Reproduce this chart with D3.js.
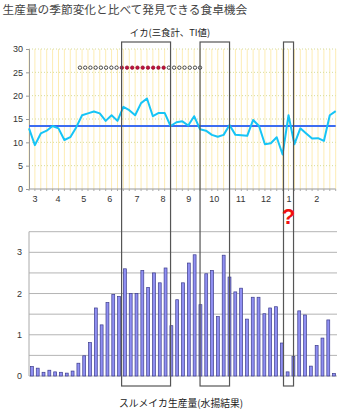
<!DOCTYPE html>
<html>
<head>
<meta charset="utf-8">
<script src="https://cdn.jsdelivr.net/npm/d3@7"></script>
<style>
  html, body { margin: 0; padding: 0; background: #fff; }
  svg { display: block; font-family: "Liberation Sans", "Noto Sans CJK JP", sans-serif; }
  .jp { font-family: "Noto Sans CJK JP", sans-serif; }
</style>
</head>
<body>
<svg id="chart" width="350" height="412"></svg>
<script>
// Weekly TI index for squid (three meals combined), March through February
const tiValues = [13.0, 9.4, 11.9, 12.5, 13.5, 13.0, 10.5, 11.1, 13.2, 15.8,
                  16.2, 16.6, 16.2, 14.6, 15.8, 14.6, 17.6, 16.9, 15.8, 18.4,
                  19.4, 15.6, 16.3, 16.3, 13.5, 14.3, 14.5, 13.6, 15.6, 12.8,
                  12.5, 11.6, 11.2, 11.6, 13.7, 11.6, 11.5, 11.4, 14.8, 13.5,
                  9.6, 9.8, 11.1, 7.4, 15.8, 9.6, 13.0, 11.9, 10.8, 10.9,
                  10.3, 15.8, 16.7];
// Annual average of the TI index
const tiAverage = 13.5;

// Weekly common squid landings
const landings = [0.23, 0.19, 0.09, 0.14, 0.10, 0.09, 0.07, 0.12, 0.31, 0.49,
                  0.81, 1.65, 1.24, 1.78, 1.98, 1.93, 2.60, 2.00, 2.00, 2.56,
                  2.15, 2.50, 2.26, 2.62, 1.22, 1.85, 2.26, 2.74, 2.94, 1.73,
                  2.48, 2.56, 1.44, 2.93, 2.40, 2.04, 2.13, 1.38, 1.91, 1.91,
                  1.51, 1.65, 1.68, 0.80, 0.10, 0.47, 1.58, 1.48, 0.24, 0.74,
                  0.92, 1.36, 0.06];

// Month labels and the week they sit under
const monthLabels = ["3", "4", "5", "6", "7", "8", "9", "10", "11", "12", "1", "2"];
const monthWeeks  = [1.0, 4.9, 9.3, 13.7, 18.3, 22.7, 27.1, 31.4, 35.9, 40.2, 44.1, 48.8];

// Season markers (week position, in season or not) plotted at value 26
const seasonWeeks = [8.64, 9.53, 10.41, 11.30, 12.19, 13.07, 13.96, 14.85,
                     15.73, 16.62, 17.50, 18.39, 19.28, 20.17, 21.05, 21.94, 22.83,
                     23.71, 24.60, 25.49, 26.37, 27.26, 28.15, 29.00];
const seasonPeak  = [0, 0, 0, 0, 0, 0, 0, 0,
                     1, 1, 1, 1, 1, 1, 1, 1, 1,
                     0, 0, 0, 0, 0, 0, 0];
const seasonLevel = 26;

// Highlighted periods (start week, end week)
const periodStart = [15.7, 29.0, 43.15];
const periodEnd   = [24.0, 34.0, 44.85];

const topTicks = [0, 5, 10, 15, 20, 25, 30];
const bottomTicks = [0, 1, 2, 3];
const bottomGrid = [0, 0.5, 1, 1.5, 2, 2.5, 3, 3.5];

const svg = d3.select("#chart");

// ---------- layout ----------
const left = 29;
const topChart = { top: 49, bottom: 189, right: 335.7 };
const botChart = { top: 231.7, bottom: 376, right: 337 };

const xTop = d3.scaleLinear().domain([0, tiValues.length - 1]).range([left, topChart.right]);
const yTop = d3.scaleLinear().domain([0, 30]).range([topChart.bottom, topChart.top]);

const xBot = d3.scaleBand().domain(d3.range(landings.length)).range([left, botChart.right]).paddingInner(0.5).paddingOuter(0.25);
const yBot = d3.scaleLinear().domain([0, 3.5]).range([botChart.bottom, botChart.top]);

// ---------- titles ----------
svg.append("text").attr("class", "jp")
  .attr("x", 2.5).attr("y", 13.5)
  .attr("font-size", 11.7).attr("fill", "#444")
  .text("生産量の季節変化と比べて発見できる食卓機会");

svg.append("text").attr("class", "jp")
  .attr("x", 170).attr("y", 36).attr("text-anchor", "middle")
  .attr("font-size", 9.4).attr("fill", "#222")
  .text("イカ(三食計、TI値)");

svg.append("text").attr("class", "jp")
  .attr("x", 181).attr("y", 407).attr("text-anchor", "middle")
  .attr("font-size", 9.8).attr("fill", "#222")
  .text("スルメイカ生産量(水揚結果)");

// ---------- top chart ----------
const gTop = svg.append("g");

// weekly vertical guides
gTop.append("g").selectAll("line")
  .data(tiValues)
  .join("line")
  .attr("x1", (d, i) => xTop(i)).attr("x2", (d, i) => xTop(i))
  .attr("y1", yTop(30)).attr("y2", yTop(0))
  .attr("stroke", "#fdecb4").attr("stroke-width", 1);

// dotted horizontal guides
gTop.append("g").selectAll("line")
  .data(topTicks.filter(t => t > 0))
  .join("line")
  .attr("x1", left).attr("x2", topChart.right)
  .attr("y1", d => yTop(d)).attr("y2", d => yTop(d))
  .attr("stroke", "#d6dc9a").attr("stroke-width", 1)
  .attr("stroke-dasharray", "1,2");

// y axis
const yAxisTop = d3.axisLeft(yTop).tickValues(topTicks).tickSize(3).tickPadding(3);
gTop.append("g")
  .attr("transform", `translate(${left},0)`)
  .call(yAxisTop)
  .call(g => g.select(".domain").attr("stroke", "#999"))
  .call(g => g.selectAll(".tick line").attr("stroke", "#999"))
  .call(g => g.selectAll(".tick text").attr("font-size", 9).attr("fill", "#333")
    .attr("font-family", "Liberation Sans, sans-serif"));

// x axis baseline with weekly ticks
gTop.append("line")
  .attr("x1", left).attr("x2", topChart.right)
  .attr("y1", yTop(0)).attr("y2", yTop(0))
  .attr("stroke", "#999");
gTop.append("g").selectAll("line")
  .data(tiValues)
  .join("line")
  .attr("x1", (d, i) => xTop(i)).attr("x2", (d, i) => xTop(i))
  .attr("y1", yTop(0)).attr("y2", yTop(0) + 2)
  .attr("stroke", "#aaa");

gTop.append("g").selectAll("text")
  .data(monthLabels)
  .join("text")
  .attr("x", (d, i) => xTop(monthWeeks[i]))
  .attr("y", 202)
  .attr("text-anchor", "middle")
  .attr("font-size", 9).attr("fill", "#333")
  .text(d => d);

// average line
gTop.append("line")
  .attr("x1", left).attr("x2", topChart.right)
  .attr("y1", yTop(tiAverage)).attr("y2", yTop(tiAverage))
  .attr("stroke", "#3d6cf0").attr("stroke-width", 2);

// TI line
gTop.append("path")
  .datum(tiValues)
  .attr("fill", "none")
  .attr("stroke", "#16c4f6")
  .attr("stroke-width", 2)
  .attr("stroke-linejoin", "round")
  .attr("d", d3.line().x((d, i) => xTop(i)).y(d => yTop(d)));

// season markers
gTop.append("g").selectAll("circle")
  .data(seasonWeeks)
  .join("circle")
  .attr("cx", d => xTop(d))
  .attr("cy", yTop(seasonLevel))
  .attr("r", 1.7)
  .attr("fill", (d, i) => seasonPeak[i] ? "#c8103c" : "#fff")
  .attr("stroke", (d, i) => seasonPeak[i] ? "#8a0a2a" : "#222")
  .attr("stroke-width", 0.8);

// ---------- bottom chart ----------
const gBot = svg.append("g");

gBot.append("g").selectAll("line")
  .data(bottomGrid)
  .join("line")
  .attr("x1", left).attr("x2", botChart.right)
  .attr("y1", d => yBot(d)).attr("y2", d => yBot(d))
  .attr("stroke", "#b4b4b4").attr("stroke-width", 1);

gBot.append("line")
  .attr("x1", left).attr("x2", left)
  .attr("y1", yBot(3.5)).attr("y2", yBot(0))
  .attr("stroke", "#aaa");

gBot.append("g").selectAll("text")
  .data(bottomTicks)
  .join("text")
  .attr("x", 22).attr("y", d => yBot(d) + 3)
  .attr("text-anchor", "end")
  .attr("font-size", 9).attr("fill", "#333")
  .text(d => d);

gBot.append("g").selectAll("rect")
  .data(landings)
  .join("rect")
  .attr("x", (d, i) => xBot(i))
  .attr("y", d => yBot(d))
  .attr("width", xBot.bandwidth())
  .attr("height", d => yBot(0) - yBot(d))
  .attr("fill", "#8f8ff2")
  .attr("stroke", "#3c3c8c")
  .attr("stroke-width", 0.7);

// ---------- highlighted periods spanning both charts ----------
svg.append("g").selectAll("rect")
  .data(periodStart)
  .join("rect")
  .attr("x", d => xTop(d))
  .attr("y", 42)
  .attr("width", (d, i) => xTop(periodEnd[i]) - xTop(d))
  .attr("height", 386 - 42)
  .attr("fill", "none")
  .attr("stroke", "#555")
  .attr("stroke-width", 1.2);

// question mark over the third period
svg.append("text")
  .attr("x", xTop((periodStart[2] + periodEnd[2]) / 2))
  .attr("y", 224)
  .attr("text-anchor", "middle")
  .attr("font-size", 22).attr("font-weight", "bold")
  .attr("fill", "#f01010")
  .attr("font-family", "Liberation Sans, sans-serif")
  .text("?");
</script>
</body>
</html>
